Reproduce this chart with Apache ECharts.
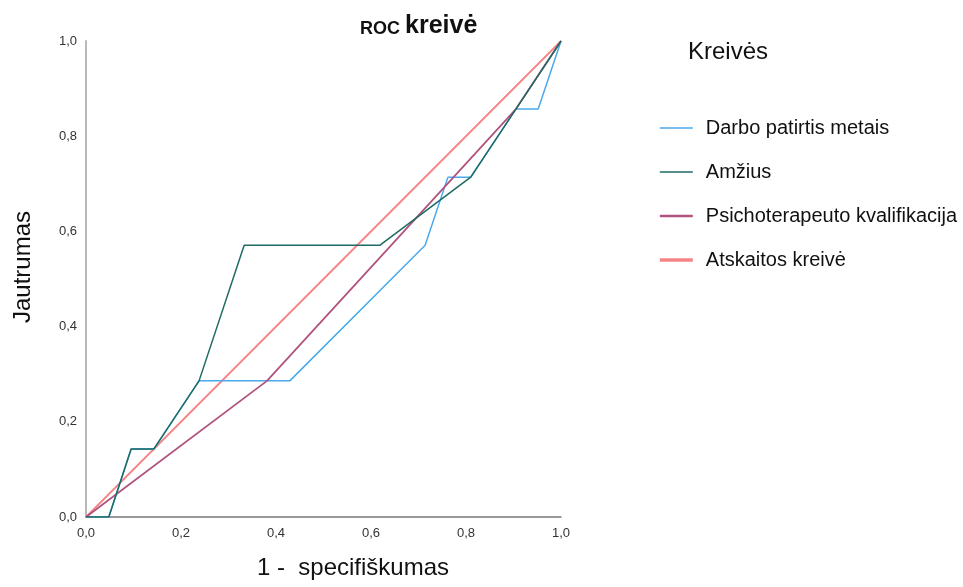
<!DOCTYPE html>
<html><head><meta charset="utf-8">
<script src="https://cdn.jsdelivr.net/npm/echarts@6/dist/echarts.min.js"></script>
<style>html,body{margin:0;padding:0;background:#fff}#c{width:963px;height:587px}</style>
</head><body><div id="c"></div>
<script>
const seriesNames = ['Darbo patirtis metais', 'Amžius', 'Psichoterapeuto kvalifikacija', 'Atskaitos kreivė'];
const darboX = [0, 0.048, 0.095, 0.143, 0.238, 0.429, 0.714, 0.762, 0.810, 0.905, 0.952, 1];
const darboY = [0, 0, 0.143, 0.143, 0.286, 0.286, 0.571, 0.714, 0.714, 0.857, 0.857, 1];
const amziusX = [0, 0.048, 0.095, 0.143, 0.238, 0.333, 0.619, 0.810, 0.905, 1];
const amziusY = [0, 0, 0.143, 0.143, 0.286, 0.571, 0.571, 0.714, 0.857, 1];
const psichX = [0, 0.381, 0.905, 1];
const psichY = [0, 0.286, 0.857, 1];
const refX = [0, 1];
const refY = [0, 1];
const tickLabels = ['0,0', '0,2', '0,4', '0,6', '0,8', '1,0'];
const colors = ['#4aa9ec', '#1e6b64', '#b0537e', '#f58486'];

const pairs = (xs, ys) => xs.map((x, i) => [x, ys[i]]);
const fmt = v => tickLabels[Math.round(v * 5)] || '';
const font = 'Liberation Sans, Arial, sans-serif';

const chart = echarts.init(document.getElementById('c'), null, {renderer: 'canvas'});
const dataSets = [pairs(darboX, darboY), pairs(amziusX, amziusY), pairs(psichX, psichY), pairs(refX, refY)];
const widths = [1.5, 1.5, 1.8, 1.8];
const legendWidths = [1.6, 1.6, 2.4, 3.6];
const order = [3, 0, 2, 1];
chart.setOption({
  animation: false,
  title: {
    text: '{a|ROC} {b|kreivė}',
    left: 355, top: 9,
    textStyle: {
      fontFamily: font,
      rich: {
        a: {fontSize: 18, fontWeight: 'bold', color: '#111', fontFamily: font, verticalAlign: 'bottom', padding: [0, 0, 1, 0]},
        b: {fontSize: 25, fontWeight: 'bold', color: '#111', fontFamily: font, verticalAlign: 'bottom'}
      }
    }
  },
  graphic: [
    {type: 'text', style: {x: 688, y: 52, text: 'Kreivės', font: '24px ' + font, fill: '#111', textVerticalAlign: 'middle'}},
    {type: 'text', style: {x: 353, y: 568, text: '1 -  specifiškumas', font: '24px ' + font, fill: '#111', textAlign: 'center', textVerticalAlign: 'middle'}},
    {type: 'text', x: 23, y: 267, rotation: Math.PI / 2,
     style: {x: 0, y: 0, text: 'Jautrumas', font: '24px ' + font, fill: '#111', textAlign: 'center', textVerticalAlign: 'middle'}}
  ],
  legend: {
    orient: 'vertical', left: 653, top: 113, itemWidth: 33, itemHeight: 14, itemGap: 24,
    itemStyle: {opacity: 0},
    textStyle: {fontSize: 20, color: '#111', fontFamily: font, padding: [0, 0, 0, 8]},
    data: seriesNames.map((n, i) => ({name: n, itemStyle: {opacity: 0}, lineStyle: {width: legendWidths[i]}}))
  },
  grid: {left: 86, right: 402, top: 41, bottom: 70, containLabel: false},
  xAxis: {
    type: 'value', min: 0, max: 1, interval: 0.2,
    axisLine: {show: true, onZero: false, lineStyle: {color: '#777', width: 1.5}},
    axisTick: {show: false}, splitLine: {show: false},
    axisLabel: {formatter: fmt, fontSize: 13, color: '#333', margin: 10, fontFamily: font}
  },
  yAxis: {
    type: 'value', min: 0, max: 1, interval: 0.2,
    axisLine: {show: true, onZero: false, lineStyle: {color: '#b8b8b8', width: 2}},
    axisTick: {show: false}, splitLine: {show: false},
    axisLabel: {formatter: fmt, fontSize: 13, color: '#333', margin: 9, fontFamily: font, padding: [4, 0, 0, 0]}
  },
  series: order.map(i => ({
    name: seriesNames[i], type: 'line', data: dataSets[i], symbol: 'none',
    color: colors[i], lineStyle: {color: colors[i], width: widths[i]}, z: 2 + order.indexOf(i)
  }))
});
</script></body></html>
